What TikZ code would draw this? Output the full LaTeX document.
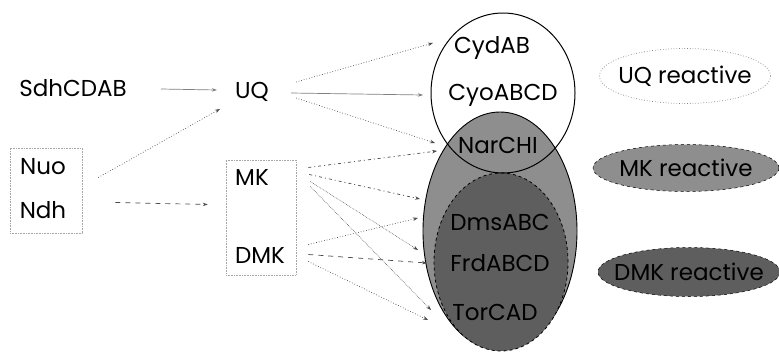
\documentclass[tikz,border=0pt]{standalone}
\usepackage{fontspec}
\setmainfont{Poppins}
\usetikzlibrary{shapes.geometric,arrows.meta,calc}
\definecolor{mkgray}{HTML}{8E8E8E}
\definecolor{dmkgray}{HTML}{5E5E5E}
\definecolor{linegray}{HTML}{4A4A4A}
\begin{document}
\begin{tikzpicture}[x=1pt,y=-1pt,
  lbl/.style={font=\fontsize{23}{23}\selectfont, inner sep=0pt},
  dotbox/.style={draw=gray!70, densely dotted, line width=0.6pt},
  conn/.style={draw=linegray, line width=0.7pt, -{Stealth[length=5pt,width=3.5pt]}},
  solidc/.style={conn, draw=gray},
  dotc/.style={conn, dotted},
  dashc/.style={conn, dash pattern=on 5pt off 5pt},
  dashdotc/.style={conn, dash pattern=on 3pt off 3pt on 1pt off 3pt},
  fine/.style={conn, densely dotted, line width=0.5pt},
  region/.style={ellipse, inner sep=0pt}
]
\useasboundingbox (0,0) rectangle (779,351);
\fill[white] (0,0) rectangle (779,351);

% regions
\node[region, draw=black, line width=0.9pt, fill=mkgray, minimum width=154pt, minimum height=238pt] (mkell) at (500,231) {};
\node[region, draw=black, dashed, line width=0.8pt, fill=dmkgray, minimum width=134pt, minimum height=178pt] (dmkell) at (501,262) {};
\node[region, draw=black, line width=1pt, minimum width=144pt, minimum height=160pt] (uqc) at (503,93) {};

% legend
\node[region, draw=gray, dotted, line width=0.7pt, minimum width=171pt, minimum height=55pt] (uqr) at (685,76) {};
\node[region, draw=black, dashed, line width=0.5pt, fill=mkgray, minimum width=186pt, minimum height=47pt] (mkr) at (686,168) {};
\node[region, draw=black, dashed, line width=0.5pt, fill=dmkgray, minimum width=182pt, minimum height=49pt] (dmkr) at (689,272) {};
\node[lbl] at (uqr) {UQ reactive};
\node[lbl] at (mkr) {MK reactive};
\node[lbl] at (dmkr) {DMK reactive};

% enzyme labels
\node[lbl] (cyd) at (492,48) {CydAB};
\node[lbl] (cyo) at (503,95) {CyoABCD};
\node[lbl] (nar) at (498,145) {NarCHI};
\node[lbl] (dms) at (500,222) {DmsABC};
\node[lbl] (frd) at (500,263) {FrdABCD};
\node[lbl] (tor) at (495,312) {TorCAD};

% left side
\node[lbl] (sdh) at (73,88) {SdhCDAB};
\node[lbl] (uq) at (252,92) {UQ};
\node[dotbox, minimum width=72pt, minimum height=85pt] (nbox) at (46,190.5) {};
\node[lbl] (nuo) at (43,167) {Nuo};
\node[lbl] (ndh) at (43,210) {Ndh};
\node[dotbox, minimum width=70pt, minimum height=115pt] (mbox) at (261,217.5) {};
\node[lbl] (mk) at (252,177) {MK};
\node[lbl] (dmk) at (260,255) {DMK};

% target points on the regions
\coordinate (tcyd) at (433,43);
\coordinate (tcyo) at (423,95);
\coordinate (tnar1) at (435,143);
\coordinate (tnar2) at (437,151);
\coordinate (td1) at (420,199);
\coordinate (td2) at (418,218);
\coordinate (tf1) at (418,250);
\coordinate (tf2) at (427,263);
\coordinate (tt1) at (431,310);
\coordinate (tt2) at (428,320);

% connectors
\draw[solidc] ($(sdh.east)+(34,1)$) -- ($(uq.west)+(-18,-2)$);
\draw[dotc] ($(nbox.east)+(16,-13)$) -- ($(uq.west)+(-15,17)$);
\draw[dashc] ($(nbox.east)+(33,12)$) -- ($(mbox.west)+(-18,-13)$);

\draw[dotc] ($(uq.east)+(27,-10)$) -- (tcyd);
\draw[solidc] ($(uq.east)+(22,1)$) -- (tcyo);
\draw[dotc] ($(uq.east)+(27,6)$) -- (tnar1);

\draw[dashdotc] ($(mbox.east)+(12,-50)$) -- (tnar2);
\draw[dashdotc] ($(mbox.east)+(13,-43)$) -- (td1);
\draw[fine] ($(mbox.east)+(14,-36)$) -- (tf1);
\draw[fine] ($(mbox.east)+(14,-31)$) -- (tt1);

\draw[dotc] ($(mbox.east)+(12,27)$) -- (td2);
\draw[dashc] ($(mbox.east)+(12,37)$) -- (tf2);
\draw[dotc] ($(mbox.east)+(12,44)$) -- (tt2);
\end{tikzpicture}
\end{document}
